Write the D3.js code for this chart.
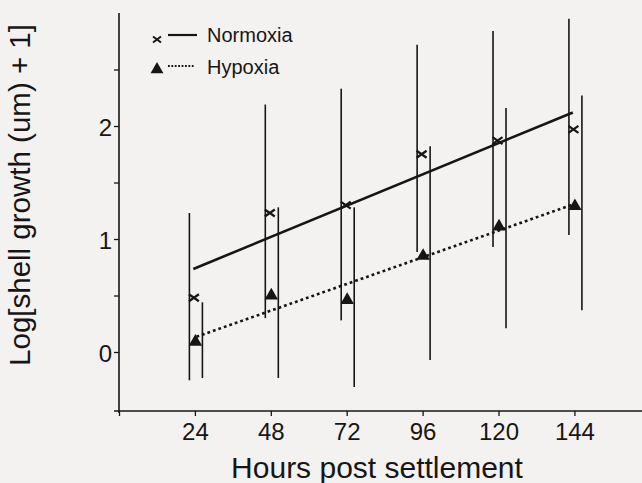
<!DOCTYPE html>
<html>
<head>
<meta charset="utf-8">
<script src="https://cdn.jsdelivr.net/npm/d3@7"></script>
<style>
  body { margin: 0; background: #f4f2f0; }
  svg { display: block; font-family: "Liberation Sans", Arial, Helvetica, sans-serif; }
</style>
</head>
<body>
<svg id="chart" width="642" height="483"></svg>
<script>
// values
const hours = [24, 48, 72, 96, 120, 144]
const normoxiaMean = [0.48, 1.23, 1.30, 1.75, 1.87, 1.97]
const normoxiaLow  = [-0.25, 0.30, 0.28, 0.885, 0.93, 1.035]
const normoxiaHigh = [1.23, 2.19, 2.33, 2.72, 2.84, 2.95]
const hypoxiaMean = [0.09, 0.50, 0.46, 0.85, 1.11, 1.29]
const hypoxiaLow  = [-0.23, -0.23, -0.31, -0.07, 0.21, 0.37]
const hypoxiaHigh = [0.44, 1.28, 1.28, 1.82, 2.16, 2.27]
// fitted regression lines, start and end points
const normoxiaFit = [[23.5, 0.735], [143.5, 2.12]]
const hypoxiaFit  = [[24.5, 0.135], [144, 1.31]]
const xTicks = [0, 24, 48, 72, 96, 120, 144]
const yTicks = [0, 1, 2]
const yMinorTicks = [0.5, 1.5, 2.5]

const ink = "#161616"
const svg = d3.select("#chart")

// scales
let x = d3.scaleLinear().domain([0, 166]).range([119, 644])
let y = d3.scaleLinear().domain([-0.522, 3.0]).range([411, 13])

// axes
let xAxis = svg.append("g")
  .attr("transform", "translate(0," + y.range()[0] + ")")
  .call(d3.axisBottom(x).tickValues(xTicks).tickSize(5).tickSizeOuter(0)
    .tickFormat(d => d === 0 ? "" : d))
xAxis.select(".domain").attr("d", "M114,0H642").attr("stroke", ink).attr("stroke-width", 1.6)
xAxis.selectAll(".tick line").attr("stroke", ink).attr("stroke-width", 1.3)
xAxis.selectAll(".tick text")
  .attr("y", 12)
  .attr("font-size", "24px")
  .attr("fill", ink)

let yAxis = svg.append("g")
  .attr("transform", "translate(" + x.range()[0] + ",0)")
  .call(d3.axisLeft(y).tickValues(yTicks).tickSize(5).tickSizeOuter(0).tickFormat(d3.format("d")))
yAxis.select(".domain").attr("d", "M0,413V13").attr("stroke", ink).attr("stroke-width", 1.6)
yAxis.selectAll(".tick line").attr("stroke", ink).attr("stroke-width", 1.3)
yAxis.selectAll(".tick text")
  .attr("x", -7)
  .attr("dy", "0.38em")
  .attr("font-size", "24px")
  .attr("fill", ink)

// minor ticks on the y axis
svg.append("g")
  .attr("transform", "translate(" + x.range()[0] + ",0)")
  .call(d3.axisLeft(y).tickValues(yMinorTicks).tickSize(5).tickFormat(""))
  .call(g => g.select(".domain").remove())
  .selectAll(".tick line").attr("stroke", ink).attr("stroke-width", 1.3)

// axis titles
svg.append("text")
  .text("Hours post settlement")
  .attr("x", 377)
  .attr("y", 478)
  .attr("text-anchor", "middle")
  .attr("font-size", "30px")
  .attr("fill", ink)

svg.append("text")
  .text("Log[shell growth (um) + 1]")
  .attr("transform", "translate(30,195) rotate(-90)")
  .attr("text-anchor", "middle")
  .attr("font-size", "29.5px")
  .attr("fill", ink)

// build per-group rows
const normoxia = hours.map((h, i) => ({h: h, mean: normoxiaMean[i], low: normoxiaLow[i], high: normoxiaHigh[i]}))
const hypoxia  = hours.map((h, i) => ({h: h, mean: hypoxiaMean[i], low: hypoxiaLow[i], high: hypoxiaHigh[i]}))

// error bars, normoxia a bit left of the tick and hypoxia a bit right
const normBarShift = -5.5
const hypBarShift = 7.5

svg.append("g").selectAll("line")
  .data(normoxia)
  .join("line")
  .attr("x1", d => x(d.h) + normBarShift)
  .attr("x2", d => x(d.h) + normBarShift)
  .attr("y1", d => y(d.low))
  .attr("y2", d => y(d.high))
  .attr("stroke", ink)
  .attr("stroke-width", 1.6)

svg.append("g").selectAll("line")
  .data(hypoxia)
  .join("line")
  .attr("x1", d => x(d.h) + hypBarShift)
  .attr("x2", d => x(d.h) + hypBarShift)
  .attr("y1", d => y(d.low))
  .attr("y2", d => y(d.high))
  .attr("stroke", ink)
  .attr("stroke-width", 1.6)

// regression lines
let line = d3.line().x(d => x(d[0])).y(d => y(d[1]))

svg.append("path")
  .datum(normoxiaFit)
  .attr("d", line)
  .attr("fill", "none")
  .attr("stroke", ink)
  .attr("stroke-width", 2.6)

svg.append("path")
  .datum(hypoxiaFit)
  .attr("d", line)
  .attr("fill", "none")
  .attr("stroke", ink)
  .attr("stroke-width", 2.6)
  .attr("stroke-dasharray", "2.8,3")

// markers
function cross(cx, cy, w, h) {
  return "M" + (cx - w) + "," + (cy - h) + "L" + (cx + w) + "," + (cy + h) +
         "M" + (cx - w) + "," + (cy + h) + "L" + (cx + w) + "," + (cy - h)
}

svg.append("g").selectAll("path")
  .data(normoxia)
  .join("path")
  .attr("d", d => cross(x(d.h) - 1, y(d.mean), 5, 3.5))
  .attr("fill", "none")
  .attr("stroke", ink)
  .attr("stroke-width", 2.2)

let tri = d3.symbol().type(d3.symbolTriangle).size(78)
svg.append("g").selectAll("path")
  .data(hypoxia)
  .join("path")
  .attr("d", tri)
  .attr("transform", d => "translate(" + (x(d.h) + 0.5) + "," + y(d.mean) + ")")
  .attr("fill", ink)

// legend
let legend = svg.append("g")
legend.append("path")
  .attr("d", cross(157, 39.5, 4, 3))
  .attr("fill", "none")
  .attr("stroke", ink)
  .attr("stroke-width", 2)
legend.append("line")
  .attr("x1", 168).attr("x2", 197).attr("y1", 35).attr("y2", 35)
  .attr("stroke", ink).attr("stroke-width", 2.2)
legend.append("text")
  .text("Normoxia")
  .attr("x", 207).attr("y", 42)
  .attr("font-size", "20px")
  .attr("fill", ink)

legend.append("path")
  .attr("d", d3.symbol().type(d3.symbolTriangle).size(72))
  .attr("transform", "translate(157,69.5)")
  .attr("fill", ink)
legend.append("line")
  .attr("x1", 168).attr("x2", 195).attr("y1", 66).attr("y2", 66)
  .attr("stroke", ink).attr("stroke-width", 2)
  .attr("stroke-dasharray", "1.8,1.6")
legend.append("text")
  .text("Hypoxia")
  .attr("x", 207).attr("y", 73.5)
  .attr("font-size", "20px")
  .attr("fill", ink)
</script>
</body>
</html>
